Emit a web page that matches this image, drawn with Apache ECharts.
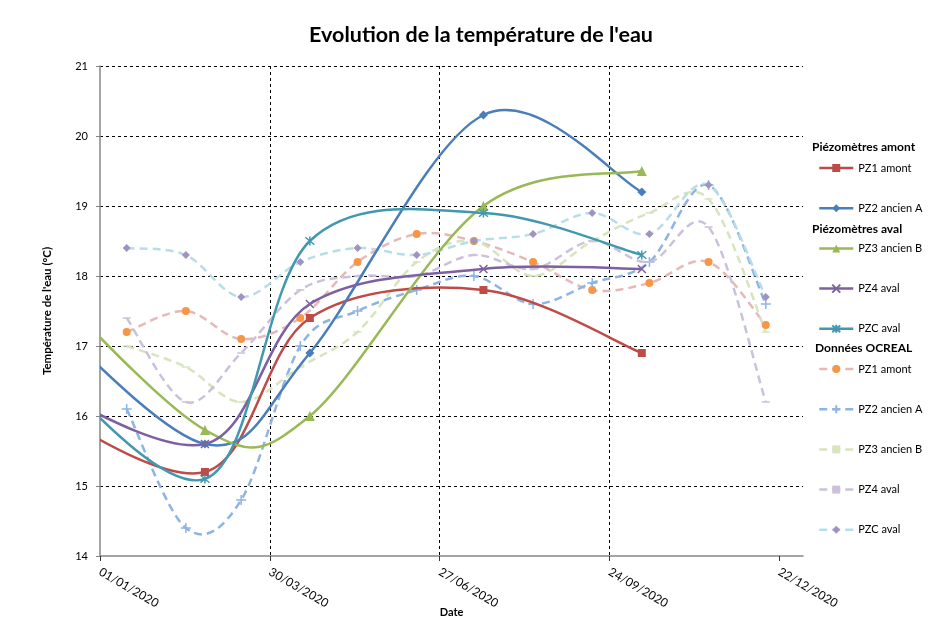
<!DOCTYPE html>
<html>
<head>
<meta charset="utf-8">
<script src="https://cdn.jsdelivr.net/npm/echarts@6/dist/echarts.min.js"></script>
<style>
html,body{margin:0;padding:0;background:#fff;}
#chart{width:937px;height:619px;}
</style>
</head>
<body>
<div id="chart"></div>
<script>
// ---- data ----
const titleText = "Evolution de la température de l'eau";
const yAxisTitle = "Température de l'eau (°C)";
const xAxisTitle = "Date";
const groupHeaders = ["Piézomètres amont", "Piézomètres aval", "Données OCREAL"];
const seriesNames = ["PZ1 amont", "PZ2 ancien A", "PZ3 ancien B", "PZ4 aval", "PZC aval"];

// Piézomètres (solid lines) - first sample lies before the visible range
const solidDates = ["2019-11-20", "2020-02-25", "2020-04-20", "2020-07-20", "2020-10-11"];
const pz1Amont   = [16.3, 15.2, 17.4, 17.8, 16.9];
const pz2AncienA = [17.8, 15.6, 16.9, 20.3, 19.2];
const pz3AncienB = [18.3, 15.8, 16.0, 19.0, 19.5];
const pz4Aval    = [16.6, 15.6, 17.6, 18.1, 18.1];
const pzcAval    = [17.1, 15.1, 18.5, 18.9, 18.3];

// Données OCREAL (dashed lines)
const ocrealDates = ["2020-01-15", "2020-02-15", "2020-03-15", "2020-04-15", "2020-05-15", "2020-06-15",
                     "2020-07-15", "2020-08-15", "2020-09-15", "2020-10-15", "2020-11-15", "2020-12-15"];
const ocPz1Amont   = [17.2, 17.5, 17.1, 17.4, 18.2, 18.6, 18.5, 18.2, 17.8, 17.9, 18.2, 17.3];
const ocPz2AncienA = [16.1, 14.4, 14.8, 17.0, 17.5, 17.8, 18.0, 17.6, 17.9, 18.2, 19.3, 17.6];
const ocPz3AncienB = [17.0, 16.7, 16.2, 16.7, 17.2, 18.2, 18.5, 18.0, 18.5, 18.9, 19.1, 17.2];
const ocPz4Aval    = [17.4, 16.2, 16.9, 17.8, 18.0, 18.0, 18.3, 18.1, 18.5, 18.2, 18.7, 16.2];
const ocPzcAval    = [18.4, 18.3, 17.7, 18.2, 18.4, 18.3, 18.5, 18.6, 18.9, 18.6, 19.3, 17.7];

// axis ticks (days since 01/01/2020)
const xTickDays = [0, 89, 178, 267, 356];
const yTicks = [14, 15, 16, 17, 18, 19, 20, 21];

// ---- helpers ----
const ORIGIN = Date.UTC(2020, 0, 1);
function dayOf(s) {
  const p = s.split('-').map(Number);
  return (Date.UTC(p[0], p[1] - 1, p[2]) - ORIGIN) / 86400000;
}
function pad(n) { return (n < 10 ? '0' : '') + n; }
function dayLabel(v) {
  if (Math.abs(v - Math.round(v)) > 1e-6 || xTickDays.indexOf(Math.round(v)) < 0) return '';
  const d = new Date(ORIGIN + v * 86400000);
  return pad(d.getUTCDate()) + '/' + pad(d.getUTCMonth() + 1) + '/' + d.getUTCFullYear();
}
function pts(dates, vals) { return dates.map((d, i) => [dayOf(d), vals[i]]); }

const FONT = 'Lato, "Liberation Sans", sans-serif';
const P_X = 'path://M0,0L10,10M10,0L0,10';
const P_STAR = 'path://M0,0L10,10M10,0L0,10M5,-1L5,11';
const P_PLUS = 'path://M5,0L5,10M0,5L10,5';
const DASH = [8, 5];

// Smoothed curve (spreadsheet-style cardinal spline) drawn through the axis scales
function curve(dates, vals, color, dash, z) {
  const data = pts(dates, vals);
  return {
    type: 'custom', silent: true, clip: true, z: z, data: data,
    encode: { x: 0, y: 1 },
    renderItem: function (params, api) {
      if (params.dataIndex !== 0) return null;
      const p = data.map(d => api.coord(d));
      const n = p.length;
      let path = 'M' + p[0][0].toFixed(2) + ' ' + p[0][1].toFixed(2);
      for (let i = 0; i < n - 1; i++) {
        const p0 = p[Math.max(i - 1, 0)], p1 = p[i], p2 = p[i + 1], p3 = p[Math.min(i + 2, n - 1)];
        const c1x = p1[0] + (p2[0] - p0[0]) / 6, c1y = p1[1] + (p2[1] - p0[1]) / 6;
        const c2x = p2[0] - (p3[0] - p1[0]) / 6, c2y = p2[1] - (p3[1] - p1[1]) / 6;
        path += ' C' + c1x.toFixed(2) + ' ' + c1y.toFixed(2) + ' ' + c2x.toFixed(2) + ' ' + c2y.toFixed(2) +
                ' ' + p2[0].toFixed(2) + ' ' + p2[1].toFixed(2);
      }
      return {
        type: 'path', shape: { pathData: path },
        style: { stroke: color, lineWidth: 2.5, fill: null, lineDash: dash || null, lineCap: 'butt', lineJoin: 'round' }
      };
    }
  };
}

function markers(name, dates, vals, color, symbol, size, mColor, stroked, z) {
  return {
    name: name, type: 'line', data: pts(dates, vals),
    symbol: symbol, symbolSize: size, showSymbol: true, clip: true,
    lineStyle: { color: color, width: 2.5, opacity: 0 },
    itemStyle: stroked ? { color: 'rgba(0,0,0,0)', borderColor: mColor, borderWidth: 1.5 } : { color: mColor, borderWidth: 0 },
    emphasis: { disabled: true }, silent: true, z: z
  };
}

const defs = [
  // name, dates, values, line colour, dash, symbol, size, marker colour, stroked
  [seriesNames[0], solidDates, pz1Amont, '#BE4B48', null, 'rect', 8, '#BE4B48', false],
  [seriesNames[1], solidDates, pz2AncienA, '#4A7EBB', null, 'diamond', 9, '#4A7EBB', false],
  [seriesNames[2], solidDates, pz3AncienB, '#98B954', null, 'triangle', 10, '#98B954', false],
  [seriesNames[3], solidDates, pz4Aval, '#7D60A0', null, P_X, 8, '#7D60A0', true],
  [seriesNames[4], solidDates, pzcAval, '#4198AF', null, P_STAR, 9, '#4198AF', true],
  ['OCREAL ' + seriesNames[0], ocrealDates, ocPz1Amont, '#E6B9B8', DASH, 'circle', 8, '#F79646', false],
  ['OCREAL ' + seriesNames[1], ocrealDates, ocPz2AncienA, '#8EB4E3', DASH, P_PLUS, 10, '#8EB4E3', true],
  ['OCREAL ' + seriesNames[2], ocrealDates, ocPz3AncienB, '#D7E4BD', DASH, 'rect', [8, 1.5], '#D7E4BD', false],
  ['OCREAL ' + seriesNames[3], ocrealDates, ocPz4Aval, '#CCC1DA', DASH, 'rect', [8, 1.5], '#CCC1DA', false],
  ['OCREAL ' + seriesNames[4], ocrealDates, ocPzcAval, '#B7DEE8', DASH, 'diamond', 8, '#A093BF', false]
];

const series = [];
defs.forEach(function (d) {
  series.push(curve(d[1], d[2], d[3], d[4], d[4] ? 2 : 4));
});
defs.forEach(function (d) {
  series.push(markers(d[0], d[1], d[2], d[3], d[5], d[6], d[7], d[8], d[4] ? 3 : 5));
});

const legendData = defs.map(function (d) {
  return { name: d[0], lineStyle: { color: d[3], width: 2.5, type: d[4] ? DASH : 'solid', opacity: 1 } };
});

const chart = echarts.init(document.getElementById('chart'), null, { renderer: 'canvas' });
chart.setOption({
  animation: false,
  backgroundColor: '#fff',
  textStyle: { fontFamily: FONT },
  title: {
    text: titleText, left: 476, top: 19, textAlign: 'center',
    textStyle: { fontFamily: FONT, fontWeight: 'bold', fontSize: 21.5, color: '#000' }
  },
  grid: { left: 100, right: 134, top: 66, bottom: 63, containLabel: false, outerBoundsMode: 'none' },
  xAxis: {
    type: 'value', min: 0, max: 368.5, interval: 89,
    name: xAxisTitle, nameLocation: 'middle', nameGap: 51, nameMoveOverlap: false,
    nameTextStyle: { fontFamily: FONT, fontWeight: 'bold', fontSize: 11, color: '#000' },
    axisLine: { show: true, lineStyle: { color: '#868686', width: 1.5 } },
    axisTick: { show: true, length: 5, customValues: xTickDays, lineStyle: { color: '#333' } },
    axisLabel: {
      customValues: xTickDays, rotate: -30, margin: 15, fontSize: 12, fontFamily: FONT, color: '#000',
      formatter: dayLabel
    },
    splitLine: { show: true, showMinLine: false, showMaxLine: false, lineStyle: { color: '#000', width: 1, type: [3, 3] } }
  },
  yAxis: {
    type: 'value', min: yTicks[0], max: yTicks[yTicks.length - 1], interval: 1,
    name: yAxisTitle, nameLocation: 'middle', nameGap: 47, nameRotate: 90, nameMoveOverlap: false,
    nameTextStyle: { fontFamily: FONT, fontWeight: 'bold', fontSize: 11.5, color: '#000' },
    axisLine: { show: true, lineStyle: { color: '#868686', width: 1.5 } },
    axisTick: { show: true, length: 4, lineStyle: { color: '#868686' } },
    axisLabel: { margin: 12, fontSize: 11, fontFamily: FONT, color: '#000' },
    splitLine: { show: true, showMinLine: false, lineStyle: { color: '#000', width: 1, type: [3, 3] } }
  },
  legend: {
    orient: 'vertical', left: 813, top: 156,
    itemWidth: 34, itemHeight: 10, itemGap: 26.2,
    selectedMode: false,
    data: legendData,
    formatter: function (n) { return n.replace(/^OCREAL /, ''); },
    textStyle: { fontFamily: FONT, fontSize: 11, color: '#000', lineHeight: 14 }
  },
  graphic: [
    { type: 'text', left: 812, top: 141, style: { text: groupHeaders[0], font: 'bold 12px ' + FONT, fill: '#000' } },
    { type: 'text', left: 812, top: 223, style: { text: groupHeaders[1], font: 'bold 12px ' + FONT, fill: '#000' } },
    { type: 'text', left: 815, top: 342, style: { text: groupHeaders[2], font: 'bold 12px ' + FONT, fill: '#000' } }
  ],
  series: series
});
</script>
</body>
</html>
